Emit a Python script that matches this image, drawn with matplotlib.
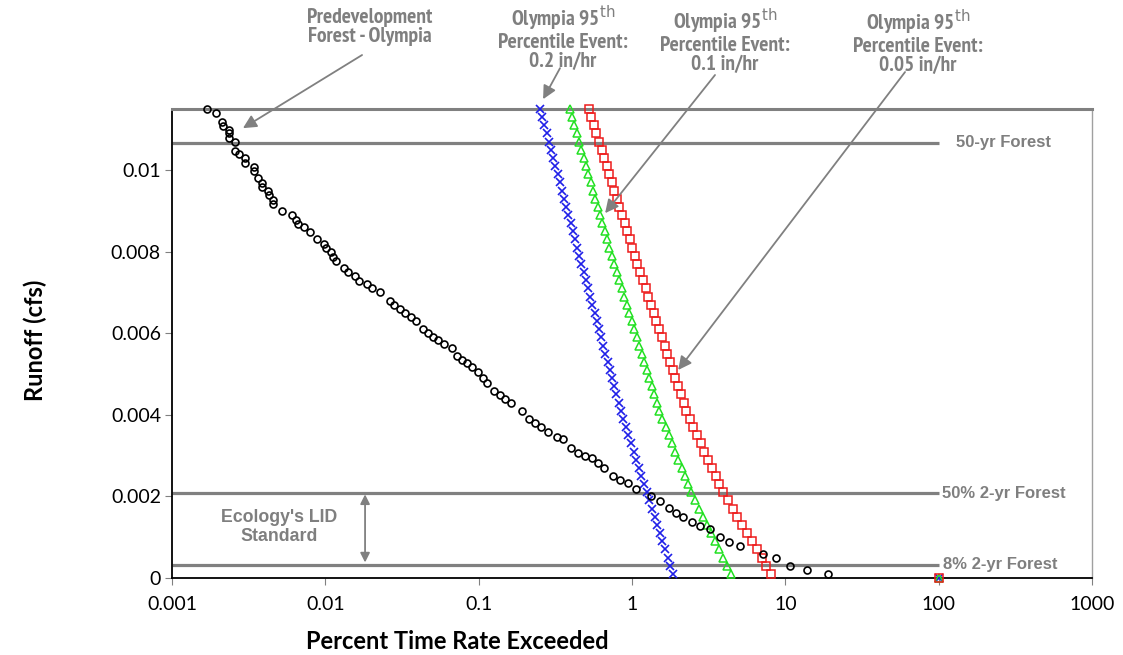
import matplotlib
matplotlib.use('Agg')
import matplotlib.pyplot as plt
from matplotlib import font_manager
from matplotlib.font_manager import FontProperties
from matplotlib.ticker import FixedLocator, NullLocator, FuncFormatter

# percent time exceeded vs runoff (cfs)
pre_pct = [0.0017, 0.00193, 0.00213, 0.00215, 0.00235, 0.00235, 0.00235, 0.00259, 0.00258, 0.00275,
           0.00299, 0.00301, 0.00343, 0.00343, 0.00366, 0.00386, 0.00385, 0.00425, 0.00427, 0.00456,
           0.00454, 0.0052, 0.00604, 0.00641, 0.00661, 0.00726, 0.00795, 0.00883, 0.00981, 0.0101,
           0.0109, 0.0112, 0.0118, 0.0133, 0.0141, 0.0155, 0.0166, 0.0187, 0.0201, 0.0227,
           0.0262, 0.0282, 0.0307, 0.0331, 0.0361, 0.0389, 0.0432, 0.047, 0.0506, 0.0546,
           0.0595, 0.0668, 0.072, 0.0783, 0.0836, 0.0902, 0.0991, 0.107, 0.113, 0.126,
           0.138, 0.149, 0.162, 0.191, 0.214, 0.233, 0.254, 0.285, 0.323, 0.357,
           0.399, 0.447, 0.494, 0.547, 0.604, 0.658, 0.753, 0.836, 0.947, 1.056,
           1.33, 1.52, 1.73, 1.94, 2.16, 2.46, 2.78, 3.23, 3.72, 4.32,
           5.07, 7.2, 8.71, 10.8, 13.8, 18.9]
pre_runoff = [0.01149, 0.01139, 0.01117, 0.01108, 0.01098, 0.01091, 0.01079, 0.01069, 0.01047, 0.01039,
              0.01029, 0.01018, 0.01008, 0.00998, 0.0098, 0.00969, 0.00958, 0.00949, 0.00939, 0.00928,
              0.00918, 0.00899, 0.00889, 0.00877, 0.00867, 0.0086, 0.00848, 0.0083, 0.00819, 0.00809,
              0.00799, 0.00788, 0.00778, 0.00759, 0.0075, 0.0074, 0.00729, 0.00721, 0.0071, 0.00702,
              0.0068, 0.00669, 0.00659, 0.00649, 0.0064, 0.00631, 0.0061, 0.006, 0.00591, 0.00583,
              0.00574, 0.00563, 0.00544, 0.00534, 0.00526, 0.00518, 0.00506, 0.00491, 0.00479, 0.00459,
              0.00449, 0.0044, 0.0043, 0.00409, 0.00389, 0.00379, 0.00369, 0.00359, 0.00346, 0.0034,
              0.00318, 0.00307, 0.00299, 0.00293, 0.00281, 0.00269, 0.00249, 0.0024, 0.00232, 0.00217,
              0.002, 0.00189, 0.00172, 0.0016, 0.0015, 0.00138, 0.00127, 0.00119, 0.001, 0.00089,
              0.00078, 0.00059, 0.00049, 0.00029, 0.0002, 0.0001]

levels = [0.0115, 0.0113, 0.0111, 0.0109, 0.0107, 0.0105, 0.0103, 0.0101, 0.0099, 0.0097,
          0.0095, 0.0093, 0.0091, 0.0089, 0.0087, 0.0085, 0.0083, 0.0081, 0.0079, 0.0077,
          0.0075, 0.0073, 0.0071, 0.0069, 0.0067, 0.0065, 0.0063, 0.0061, 0.0059, 0.0057,
          0.0055, 0.0053, 0.0051, 0.0049, 0.0047, 0.0045, 0.0043, 0.0041, 0.0039, 0.0037,
          0.0035, 0.0033, 0.0031, 0.0029, 0.0027, 0.0025, 0.0023, 0.0021, 0.0019, 0.0017,
          0.0015, 0.0013, 0.0011, 0.0009, 0.0007, 0.0005, 0.0003, 0.0001, 0.0]

ev02_pct = [0.2515, 0.2599, 0.2685, 0.2774, 0.2866, 0.2961, 0.3059, 0.3162, 0.3267, 0.3375,
            0.3487, 0.3603, 0.3724, 0.3847, 0.3975, 0.4107, 0.4243, 0.4385, 0.4531, 0.4682,
            0.4837, 0.4998, 0.5164, 0.5336, 0.5513, 0.5697, 0.5886, 0.6082, 0.6284, 0.6494,
            0.671, 0.6934, 0.7164, 0.7403, 0.7649, 0.7903, 0.8166, 0.8439, 0.8761, 0.911,
            0.9475, 0.9854, 1.0247, 1.0656, 1.1084, 1.1527, 1.1986, 1.2465, 1.2964, 1.3483,
            1.4025, 1.4585, 1.5166, 1.5777, 1.6406, 1.7061, 1.7746, 1.8455, 100]
ev01_pct = [0.3928, 0.4068, 0.4211, 0.4362, 0.4516, 0.4676, 0.4842, 0.5012, 0.519, 0.5374,
            0.5565, 0.5762, 0.5965, 0.6178, 0.6397, 0.6623, 0.6857, 0.7102, 0.7354, 0.7632,
            0.7925, 0.8231, 0.8548, 0.8878, 0.922, 0.9574, 0.9943, 1.0325, 1.0722, 1.1136,
            1.1564, 1.2008, 1.247, 1.295, 1.3449, 1.397, 1.4508, 1.5066, 1.5762, 1.6546,
            1.737, 1.8234, 1.9143, 2.0095, 2.1095, 2.2145, 2.3247, 2.4404, 2.5882, 2.749,
            2.919, 3.0994, 3.2914, 3.4942, 3.711, 3.9402, 4.1828, 4.4425, 100]
ev005_pct = [0.5226, 0.543, 0.5644, 0.5863, 0.6093, 0.6332, 0.658, 0.6838, 0.7105, 0.7381,
             0.767, 0.797, 0.8282, 0.8607, 0.8944, 0.9297, 0.9658, 1.0037, 1.043, 1.0857,
             1.1308, 1.1779, 1.227, 1.2777, 1.3308, 1.3862, 1.4436, 1.5036, 1.566, 1.6311,
             1.6986, 1.7692, 1.8429, 1.9195, 1.999, 2.0822, 2.1687, 2.2585, 2.3757, 2.5119,
             2.6563, 2.8072, 2.9689, 3.1383, 3.3181, 3.5075, 3.7085, 3.9219, 4.2073, 4.5237,
             4.8641, 5.231, 5.6247, 6.0493, 6.5043, 6.9935, 7.5215, 8.0853, 100]

ref_values = [0.01067, 0.00208, 0.00032]
ref_labels = ['50-yr Forest', '50% 2-yr Forest', '8% 2-yr Forest']

xticks = [0.001, 0.01, 0.1, 1, 10, 100, 1000]
yticks = [0, 0.002, 0.004, 0.006, 0.008, 0.01]

# a narrow bold face for the callouts, if one is installed
narrow_file = None
for f in font_manager.fontManager.ttflist:
    fn = f.fname.replace('-', '').replace('_', '').lower()
    if 'narrow' in fn and 'bold' in fn and 'italic' not in fn:
        narrow_file = f.fname
        break
if narrow_file is None:
    for f in font_manager.fontManager.ttflist:
        if 'DejaVuSansCondensed-Bold.ttf' in f.fname:
            narrow_file = f.fname
            break
if narrow_file:
    note_font = FontProperties(fname=narrow_file, size=15.5)
else:
    note_font = FontProperties(family='DejaVu Sans', weight='bold', size=10.5)

grey = '#7f7f7f'

plt.rcParams['font.family'] = ['Lato', 'DejaVu Sans']
plt.rcParams['mathtext.fontset'] = 'dejavusans'

fig = plt.figure(figsize=(11.23, 6.55), dpi=100)
ax = fig.add_axes([0.1532, 0.1176, 0.8192, 0.716])

for v in ref_values:
    ax.plot([0.001, 100], [v, v], color='#808080', lw=2.3, zorder=1, solid_capstyle='butt')

ax.plot(ev02_pct, levels, ls='none', marker='x', ms=5.5, mew=1.2, color='#1f1fe8', clip_on=False, zorder=3)
ax.plot(ev01_pct, levels, ls='none', marker='^', ms=5.5, mew=1.1, mfc='none', color='#22e022', clip_on=False, zorder=3)
ax.plot(ev005_pct, levels, ls='none', marker='s', ms=5.5, mew=1.1, mfc='none', color='#ee1c1c', clip_on=False, zorder=3)
ax.plot(pre_pct, pre_runoff, ls='none', marker='o', ms=5, mew=1.2, mfc='none', color='black', clip_on=False, zorder=4)

ax.set_xscale('log')
ax.set_xlim(0.001, 1000)
ax.set_ylim(0, 0.0115)
ax.xaxis.set_major_locator(FixedLocator(xticks))
ax.xaxis.set_minor_locator(NullLocator())
ax.yaxis.set_major_locator(FixedLocator(yticks))
fmt = FuncFormatter(lambda v, p: '{:g}'.format(v))
ax.xaxis.set_major_formatter(fmt)
ax.yaxis.set_major_formatter(fmt)
ax.tick_params(axis='both', labelsize=14, length=5, width=0.8, color='#808080')
ax.tick_params(axis='x', pad=8)
ax.tick_params(axis='y', pad=3)

ax.spines['left'].set_color('black')
ax.spines['bottom'].set_color('black')
ax.spines['left'].set_linewidth(1.3)
ax.spines['bottom'].set_linewidth(1.3)
ax.spines['top'].set_color('#808080')
ax.spines['top'].set_linewidth(2.2)
ax.spines['right'].set_color('#a0a0a0')
ax.spines['right'].set_linewidth(1.0)

lab_x = [130, 105, 106]
for v, t, lx in zip(ref_values, ref_labels, lab_x):
    ax.text(lx, v, t, ha='left', va='center', fontsize=12, fontweight='bold',
            color=grey, family=['Liberation Sans', 'DejaVu Sans'])

ax.text(0.00499, 0.00125, "Ecology's LID\nStandard", ha='center', va='center', fontsize=12.8,
        fontweight='bold', color=grey, family=['Liberation Sans', 'DejaVu Sans'], linespacing=1.15)
ax.annotate('', xy=(0.01815, 0.00038), xytext=(0.01815, 0.00205),
            arrowprops=dict(arrowstyle='<|-|>', color='#808080', lw=1.3, mutation_scale=14,
                            shrinkA=0, shrinkB=0))

notes = ['Predevelopment\nForest - Olympia',
         'Olympia 95$^{\\mathrm{th}}$\nPercentile Event:\n0.2 in/hr',
         'Olympia 95$^{\\mathrm{th}}$\nPercentile Event:\n0.1 in/hr',
         'Olympia 95$^{\\mathrm{th}}$\nPercentile Event:\n0.05 in/hr']
note_xy = [(0.3295, 0.9588), (0.5013, 0.9435), (0.6456, 0.939), (0.8175, 0.937)]
arrow_start = [(0.3224, 0.916), (0.4987, 0.896), (0.6367, 0.8855), (0.8059, 0.89)]
arrow_end = [(0.0029, 0.01103), (0.263, 0.01174), (0.6676, 0.008946), (2.0, 0.0051)]

for t, (tx, ty), s, e in zip(notes, note_xy, arrow_start, arrow_end):
    fig.text(tx, ty, t, ha='center', va='center', fontproperties=note_font,
             color=grey, linespacing=1.0)
    ax.annotate('', xy=e, xytext=s, textcoords='figure fraction', annotation_clip=False,
                arrowprops=dict(arrowstyle='-|>', color='#808080', lw=1.3, mutation_scale=20,
                                shrinkA=0, shrinkB=0))

fig.text(0.031, 0.481, 'Runoff (cfs)', rotation=90, ha='center', va='center',
         fontsize=17, fontweight='bold')
fig.text(0.407, 0.02, 'Percent Time Rate Exceeded', ha='center', va='center',
         fontsize=17, fontweight='bold')

fig.savefig('out.png', dpi=100)
